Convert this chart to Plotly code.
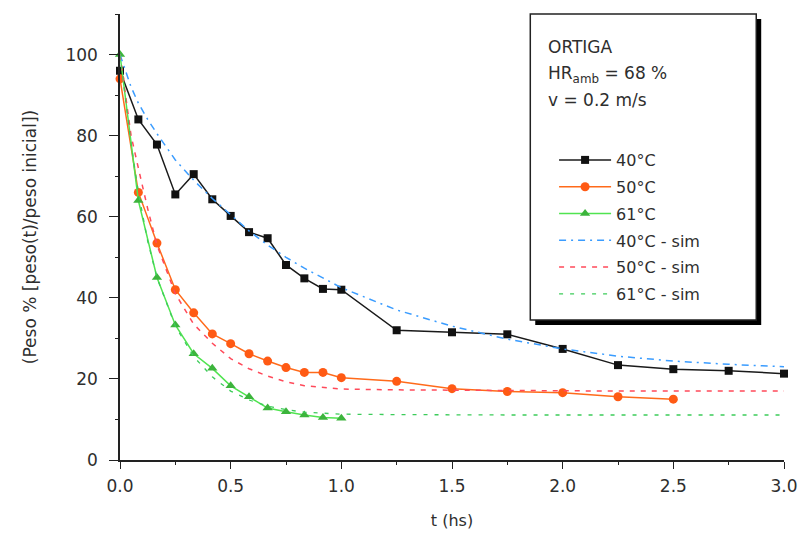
import plotly.graph_objects as go

# ---- data ----
t_40 = [0, 0.083, 0.167, 0.25, 0.333, 0.417, 0.5, 0.583, 0.667, 0.75, 0.833, 0.917, 1.0,
        1.25, 1.5, 1.75, 2.0, 2.25, 2.5, 2.75, 3.0]
y_40 = [96, 84, 77.8, 65.5, 70.5, 64.3, 60.2, 56.2, 54.7, 48.1, 44.8, 42.2, 42.0,
        32.0, 31.5, 31.0, 27.4, 23.4, 22.4, 22.0, 21.3]

t_50 = [0, 0.083, 0.167, 0.25, 0.333, 0.417, 0.5, 0.583, 0.667, 0.75, 0.833, 0.917, 1.0,
        1.25, 1.5, 1.75, 2.0, 2.25, 2.5]
y_50 = [94, 66, 53.5, 42, 36.3, 31.1, 28.7, 26.2, 24.4, 22.8, 21.6, 21.6, 20.3,
        19.4, 17.6, 16.9, 16.6, 15.6, 15.0]

t_61 = [0, 0.083, 0.167, 0.25, 0.333, 0.417, 0.5, 0.583, 0.667, 0.75, 0.833, 0.917, 1.0]
y_61 = [100, 64, 45, 33.3, 26.2, 22.6, 18.3, 15.6, 12.8, 11.9, 11.1, 10.5, 10.3]

t_sim = [0, 0.05, 0.083, 0.125, 0.167, 0.25, 0.333, 0.417, 0.5, 0.583, 0.667, 0.75, 0.833,
         1.0, 1.25, 1.5, 1.75, 2.0, 2.25, 2.5, 2.75, 3.0]
y_40_sim = [100, 92, 88, 84, 80.5, 74, 69, 64.5, 60.5, 56.5, 53, 50, 47.3,
            42.5, 37, 33, 29.8, 27.4, 25.6, 24.4, 23.6, 23.0]
y_50_sim = [100, 80, 72, 62, 53, 41, 33.5, 28.8, 25, 22.5, 20.7, 19.3, 18.3,
            17.5, 17.3, 17.2, 17.1, 17.1, 17.0, 17.0, 17.0, 17.0]
y_61_sim = [100, 78, 66, 54, 45, 33, 25.5, 20.5, 17, 14.8, 13.3, 12.4, 11.8,
            11.3, 11.2, 11.1, 11.1, 11.1, 11.1, 11.1, 11.1, 11.1]

names = ["40°C", "50°C", "61°C", "40°C - sim", "50°C - sim", "61°C - sim"]
x_ticks = [0, 0.5, 1.0, 1.5, 2.0, 2.5, 3.0]
x_tick_labels = ["0.0", "0.5", "1.0", "1.5", "2.0", "2.5", "3.0"]
y_ticks = [0, 20, 40, 60, 80, 100]

FONT = "DejaVu Sans"
TXT = "#2e2e2e"

fig = go.Figure()
fig.add_trace(go.Scatter(x=t_40, y=y_40, name=names[0], mode="lines+markers", legendgroup="a",
                         line=dict(color="#1a1a1a", width=1.5),
                         marker=dict(symbol="square", size=8, color="#111111"), cliponaxis=False))
fig.add_trace(go.Scatter(x=t_50, y=y_50, name=names[1], mode="lines+markers", legendgroup="b",
                         line=dict(color="#ff6a1a", width=1.5),
                         marker=dict(symbol="circle", size=9, color="#ff5a14"), cliponaxis=False))
fig.add_trace(go.Scatter(x=t_61, y=y_61, name=names[2], mode="lines+markers", legendgroup="c",
                         line=dict(color="#50e450", width=1.5),
                         marker=dict(symbol="triangle-up", size=9, color="#3cb43c"), cliponaxis=False))
fig.add_trace(go.Scatter(x=t_sim, y=y_40_sim, name=names[3], mode="lines", legendgroup="d",
                         line=dict(color="#3a9cff", width=1.5, dash="7px,5px,2px,5px"), cliponaxis=False))
fig.add_trace(go.Scatter(x=t_sim, y=y_50_sim, name=names[4], mode="lines", legendgroup="e",
                         line=dict(color="#ff4a5a", width=1.5, dash="5px,6px"), cliponaxis=False))
fig.add_trace(go.Scatter(x=t_sim, y=y_61_sim, name=names[5], mode="lines", legendgroup="f",
                         line=dict(color="#3ccc5a", width=1.3, dash="4px,7px"), cliponaxis=False))

# legend box with shadow (paper coords: x 120->0, 790->1 ; y 460->0, 14->1)
TOP = 14
PH = 460 - TOP


def px_x(p):
    return (p - 120) / 670.0


def px_y(p):
    return (460 - p) / float(PH)


fig.add_shape(type="rect", xref="paper", yref="paper",
              x0=px_x(539), x1=px_x(767), y0=px_y(325), y1=px_y(19),
              fillcolor="#000000", line=dict(width=0), layer="above")
fig.add_shape(type="rect", xref="paper", yref="paper",
              x0=px_x(534), x1=px_x(762), y0=px_y(320), y1=px_y(14),
              fillcolor="white", line=dict(color="#222222", width=1.5), layer="above")

for txt, yp in [("ORTIGA", 47), ("HR<sub>amb</sub> = 68 %", 74), ("v = 0.2 m/s", 100)]:
    fig.add_annotation(text=txt, xref="paper", yref="paper", x=px_x(550), y=px_y(yp),
                       xanchor="left", yanchor="middle", showarrow=False,
                       font=dict(family=FONT, size=17, color=TXT))

fig.update_layout(
    width=810, height=540,
    margin=dict(l=120, r=20, t=TOP, b=80),
    paper_bgcolor="white", plot_bgcolor="white",
    font=dict(family=FONT, size=16, color=TXT),
    showlegend=True,
    legend=dict(x=px_x(558), y=px_y(143), xanchor="left", yanchor="top",
                bgcolor="rgba(0,0,0,0)", borderwidth=0,
                font=dict(family=FONT, size=16, color=TXT),
                itemwidth=52, tracegroupgap=3),
    xaxis=dict(range=[0, 3], tickvals=x_ticks, ticktext=x_tick_labels,
               showline=True, linecolor="#222", linewidth=1.5, mirror=False,
               ticks="outside", ticklen=7, tickwidth=1.3, tickcolor="#222",
               ticklabelstandoff=3, tickfont=dict(size=17),
               minor=dict(ticks="outside", dtick=0.25, ticklen=3, tickcolor="#222"),
               showgrid=False, zeroline=False,
               title=dict(text="t (hs)", font=dict(family=FONT, size=16, color=TXT), standoff=20)),
    yaxis=dict(range=[0, 110], tickvals=y_ticks,
               showline=True, linecolor="#222", linewidth=1.5, mirror=False,
               ticks="outside", ticklen=9, tickwidth=1.3, tickcolor="#222",
               ticklabelstandoff=8, tickfont=dict(size=17),
               minor=dict(ticks="outside", dtick=10, ticklen=3, tickcolor="#222"),
               showgrid=False, zeroline=False,
               title=dict(text="(Peso % [peso(t)/peso inicial])",
                          font=dict(family=FONT, size=17, color=TXT), standoff=24)),
)

fig.write_html("out.html")
